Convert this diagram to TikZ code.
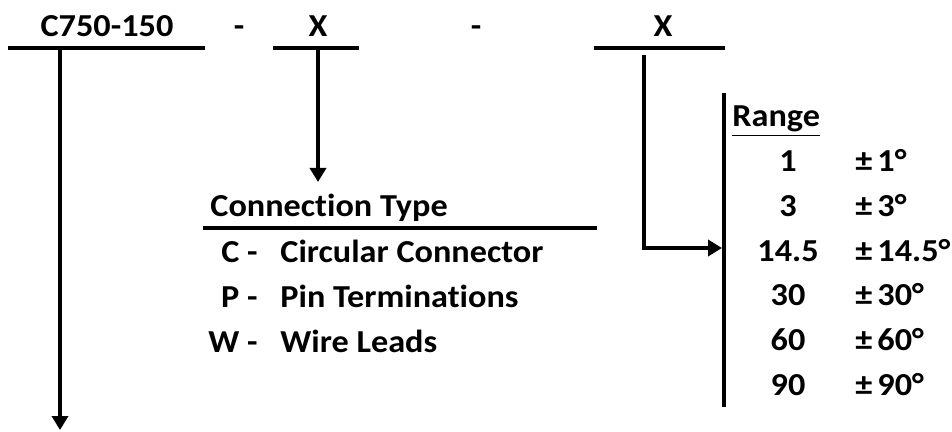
\documentclass[tikz,border=0pt]{standalone}
\usepackage{fontspec}
\setmainfont{Carlito}[FakeStretch=1.07, Ligatures=NoCommon]
\usetikzlibrary{arrows.meta}

\tikzset{
  lbl/.style={font=\bfseries\fontsize{16}{19}\selectfont, inner sep=0pt},
  bar/.style={line width=1.8pt},
  pointer/.style={line width=1.8pt, -{Triangle[width=8pt,length=7pt]}},
}

\begin{document}
\begin{tikzpicture}[x=0.5pt,y=-0.5pt]
  \useasboundingbox (0,0) rectangle (952,432);

  % part number
  \node[lbl, anchor=base] (base) at (107,37) {C750-150};
  \node[lbl, anchor=base] (dashA) at (239,37) {-};
  \node[lbl, anchor=base] (conn) at (318,37) {X};
  \node[lbl, anchor=base] (dashB) at (476,37) {-};
  \node[lbl, anchor=base] (rng) at (663,37) {X};

  \coordinate (baseL) at (8,48);
  \coordinate (baseR) at (205,48);
  \coordinate (connL) at (273,48);
  \coordinate (connR) at (359,48);
  \coordinate (rngL) at (594,48);
  \coordinate (rngR) at (725,48);
  \draw[bar] (baseL) -- (baseR);
  \draw[bar] (connL) -- (connR);
  \draw[bar] (rngL) -- (rngR);

  % pointers
  \coordinate (baseTop) at (60,48);
  \coordinate (baseEnd) at (60,430);
  \coordinate (connTop) at (318,48);
  \coordinate (connEnd) at (318,182);
  \coordinate (rngTop) at (644,55);
  \coordinate (rngEnd) at (722,248);
  \draw[pointer] (baseTop) -- (baseEnd);
  \draw[pointer] (connTop) -- (connEnd);
  \draw[pointer] (rngTop) |- (rngEnd);

  % connection type
  \node[lbl, anchor=base west] (ctHead) at (210,217) {Connection Type};
  \coordinate (ctL) at (203,228);
  \coordinate (ctR) at (597,228);
  \draw[bar] (ctL) -- (ctR);
  \foreach \code/\desc [count=\i] in {C/Circular Connector, P/Pin Terminations, W/Wire Leads} {
    \node[lbl, anchor=base east] (code\i) at (258,{218.5+44.5*\i}) {\code\ -};
    \node[lbl, anchor=base west] (desc\i) at (280,{218.5+44.5*\i}) {\desc};
  }

  % range
  \coordinate (rbTop) at (724,93);
  \coordinate (rbBot) at (724,407);
  \draw[bar] (rbTop) -- (rbBot);
  \node[lbl, anchor=base west] (rHead) at (732,127) {\underline{Range}};
  \foreach \val [count=\i] in {1,3,14.5,30,60,90} {
    \node[lbl, anchor=base] (val\i) at (788,{127.4+44.6*\i}) {\val};
    \node[lbl, anchor=base west] (tol\i) at (855,{127.4+44.6*\i}) {±\kern2.5pt\val°};
  }
\end{tikzpicture}
\end{document}
